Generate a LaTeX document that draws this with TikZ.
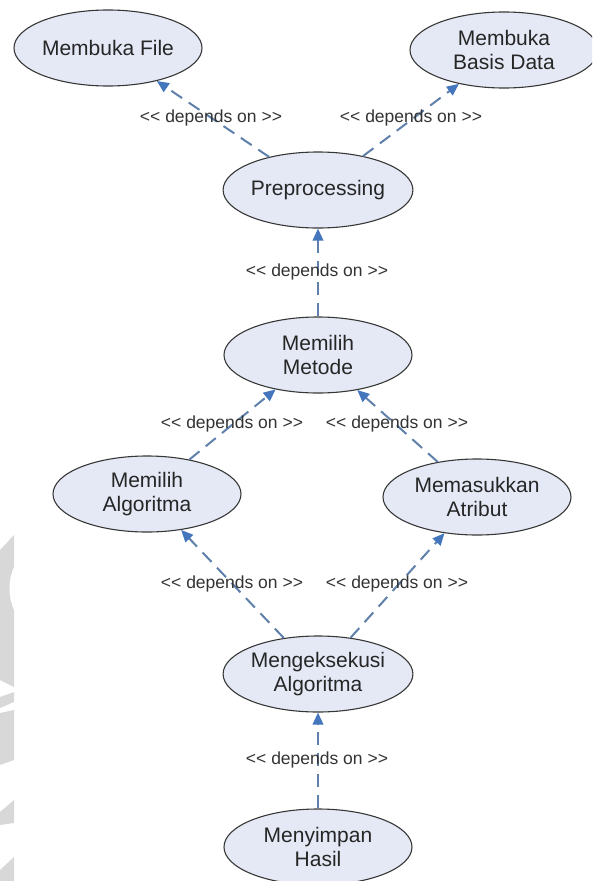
\documentclass[tikz,border=0pt]{standalone}
\usepackage{fontspec}
\setmainfont{Liberation Sans}
\usetikzlibrary{arrows.meta,shapes.geometric}
\definecolor{ucfill}{RGB}{228,233,245}
\definecolor{ucline}{RGB}{55,55,55}
\definecolor{depline}{RGB}{95,128,170}
\definecolor{deptip}{RGB}{68,118,190}
\definecolor{wmgray}{RGB}{216,216,216}
\newcommand{\deptext}{<\kern0pt< depends on >\kern0pt>}
\begin{document}
\begin{tikzpicture}[x=1pt,y=-1pt,
  usecase/.style={ellipse, draw=ucline, line width=1.1pt, fill=ucfill,
    minimum width=188pt, minimum height=76pt, inner sep=0pt, align=center,
    font=\fontsize{21}{24}\selectfont, text=black!85},
  depends/.style={depline, line width=2pt, dash pattern=on 13pt off 8pt,
    -{Triangle[length=12pt,width=10.5pt,color=deptip]}},
  deplabel/.style={font=\fontsize{17.5}{20}\selectfont, text=black!80, inner sep=1pt}]
\useasboundingbox (0,0) rectangle (592,881);
\clip (0,0) rectangle (592,881);
% faint watermark fragments on the left edge
\fill[wmgray] (0,550) -- (14,535) -- (14,687) -- (0,680) -- cycle;
\fill[white] (14,567) .. controls (8,580) and (8,597) .. (14,610) -- cycle;
\fill[wmgray] (0,697) -- (14,692) -- (14,702) -- (0,708) -- cycle;
\fill[wmgray] (0,713) -- (14,710) -- (14,760) -- (0,765) -- cycle;
\fill[wmgray] (0,812) -- (14,800) -- (14,823) -- (0,825) -- cycle;
\fill[wmgray] (0,870) -- (14,857) -- (14,881) -- (0,881) -- cycle;
% use cases
\node[usecase] (mf)  at (108,48)  {Membuka File};
\node[usecase] (mbd) at (504,50)  {Membuka\\Basis Data};
\node[usecase] (pre) at (318,190) {Preprocessing};
\node[usecase] (mm)  at (318,355) {Memilih\\Metode};
\node[usecase] (ma)  at (147,494) {Memilih\\Algoritma};
\node[usecase] (mat) at (477,497) {Memasukkan\\Atribut};
\node[usecase] (me)  at (318,674) {Mengeksekusi\\Algoritma};
\node[usecase] (ms)  at (318,847) {Menyimpan\\Hasil};
% dependencies
\draw[depends] (pre) -- (mf);
\draw[depends] (pre) -- (mbd);
\draw[depends] (mm) -- (pre);
\draw[depends] (ma) -- (mm);
\draw[depends] (mat) -- (mm);
\draw[depends] (me) -- (ma);
\draw[depends] (me) -- (mat);
\draw[depends] (ms) -- (me);
% labels
\node[deplabel] (l1) at (211,118) {\deptext};
\node[deplabel] (l2) at (411,118) {\deptext};
\node[deplabel] (l3) at (317,272) {\deptext};
\node[deplabel] (l4) at (232,424) {\deptext};
\node[deplabel] (l5) at (397,424) {\deptext};
\node[deplabel] (l6) at (232,584) {\deptext};
\node[deplabel] (l7) at (397,584) {\deptext};
\node[deplabel] (l8) at (317,760) {\deptext};
\end{tikzpicture}
\end{document}
